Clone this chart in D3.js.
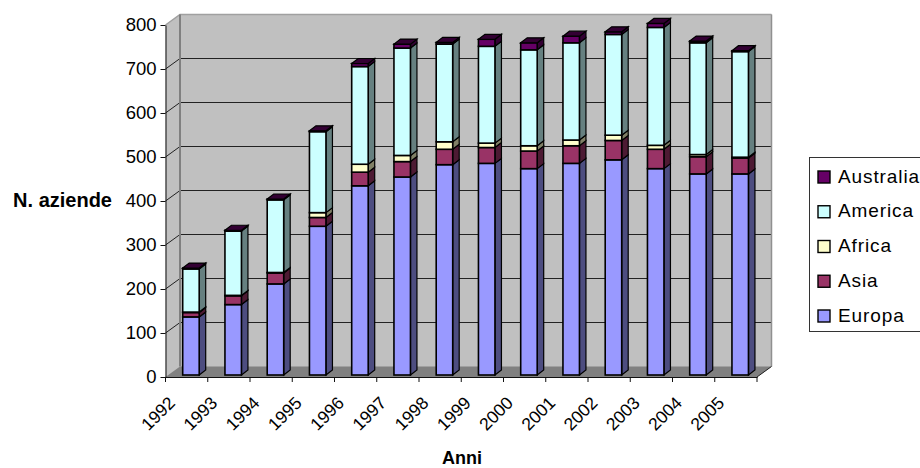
<!DOCTYPE html>
<html>
<head>
<meta charset="utf-8">
<script src="https://cdnjs.cloudflare.com/ajax/libs/d3/7.8.5/d3.min.js"></script>
<style>
    html, body { margin: 0; padding: 0; background: #fff; overflow: hidden; }
    text { font-family: "Liberation Sans", Arial, sans-serif; fill: #000; }
</style>
</head>
<body>
<div id="chart"></div>
<script>
const years = ["1992","1993","1994","1995","1996","1997","1998","1999","2000","2001","2002","2003","2004","2005"];
const seriesNames = ["Europa","Asia","Africa","America","Australia"];
const seriesColors = ["#9999FF","#993366","#FFFFCC","#CCFFFF","#660066"];
const sideColors = ["#4D4D80","#4D1A33","#808066","#668080","#330033"];

// segment sizes per year
const europa    = [132,160,207,338,430,450,478,481,469,481,489,469,457,457];
const asia      = [10,20,25,20,31,35,35,36,40,40,44,44,39,36];
const africa    = [1,1,1,11,18,14,17,10,12,13,12,9,5,2];
const america   = [98,146,165,184,222,244,222,220,218,221,229,268,254,240];
const australia = [2,2,2,2,7,9,4,16,16,15,6,9,4,2];

const yTicks = [0,100,200,300,400,500,600,700,800];

const width = 920, height = 468;
const plot = {left: 165.5, right: 757, top: 25, bottom: 377};
const depth = {x: 14.5, y: 10.5};
const barDepth = {x: 6.5, y: 5};
const barInset = 17.2, barWidth = 16.5, barLift = 2;

const svg = d3.select("#chart").append("svg")
    .attr("width", width)
    .attr("height", height)
    .style("display", "block");

const x = d3.scaleBand().domain(years).range([plot.left, plot.right]);
const y = d3.scaleLinear().domain([0, 800]).range([plot.bottom, plot.top]);

const rows = years.map((year, i) => ({
    year: year,
    Europa: europa[i],
    Asia: asia[i],
    Africa: africa[i],
    America: america[i],
    Australia: australia[i]
}));
const stacked = d3.stack().keys(seriesNames)(rows);

// walls and floor
svg.append("polygon")
    .attr("points", [[plot.left, plot.bottom], [plot.left, plot.top], [plot.left + depth.x, plot.top - depth.y], [plot.right + depth.x, plot.top - depth.y], [plot.right + depth.x, plot.bottom - depth.y], [plot.right, plot.bottom]].join(" "))
    .attr("fill", "#C0C0C0");

svg.append("polygon")
    .attr("points", [[plot.left, plot.bottom], [plot.left + depth.x, plot.bottom - depth.y], [plot.right + depth.x, plot.bottom - depth.y], [plot.right, plot.bottom]].join(" "))
    .attr("fill", "#808080");

// gridlines
yTicks.slice(1).forEach(t => {
    svg.append("polyline")
        .attr("points", [[plot.left, y(t)], [plot.left + depth.x, y(t) - depth.y], [plot.right + depth.x, y(t) - depth.y]].join(" "))
        .attr("fill", "none")
        .attr("stroke", t === 800 ? "#A0A0A0" : "#222")
        .attr("stroke-width", t === 800 ? 1.5 : 1);
});

// back wall border
svg.append("path")
    .attr("d", `M${plot.left + depth.x},${plot.bottom - depth.y}V${plot.top - depth.y}`)
    .attr("stroke", "#808080").attr("stroke-width", 2).attr("fill", "none");
svg.append("path")
    .attr("d", `M${plot.right + depth.x},${plot.top - depth.y}V${plot.bottom - depth.y}`)
    .attr("stroke", "#909090").attr("stroke-width", 1.5).attr("fill", "none");
svg.append("path")
    .attr("d", `M${plot.right},${plot.bottom}L${plot.right + depth.x},${plot.bottom - depth.y}`)
    .attr("stroke", "#222").attr("stroke-width", 1).attr("fill", "none");

// bars
const barStroke = {stroke: "#000", width: 1.6};
years.forEach(year => {
    let g = svg.append("g").attr("class", "bar");
    let x0 = x(year) + barInset, x1 = x0 + barWidth;

    stacked.forEach((layer, s) => {
        let d = layer.find(e => e.data.year === year);
        let yTop = y(d[1]) - barLift, yBase = y(d[0]) - barLift;

        g.append("polygon")
            .attr("points", [[x1, yBase], [x1 + barDepth.x, yBase - barDepth.y], [x1 + barDepth.x, yTop - barDepth.y], [x1, yTop]].join(" "))
            .attr("fill", sideColors[s])
            .attr("stroke", barStroke.stroke)
            .attr("stroke-width", 1.2);

        g.append("rect")
            .attr("x", x0)
            .attr("y", yTop)
            .attr("width", barWidth)
            .attr("height", yBase - yTop)
            .attr("fill", seriesColors[s])
            .attr("stroke", barStroke.stroke)
            .attr("stroke-width", barStroke.width);

        // only the last series shows its top face
        if (s === stacked.length - 1) {
            g.append("polygon")
                .attr("points", [[x0, yTop], [x0 + barDepth.x, yTop - barDepth.y], [x1 + barDepth.x, yTop - barDepth.y], [x1, yTop]].join(" "))
                .attr("fill", sideColors[s])
                .attr("stroke", barStroke.stroke)
                .attr("stroke-width", 1.2);
        }
    });
});

// y axis
const yAxis = d3.axisLeft(y).tickValues(yTicks).tickSize(5).tickPadding(4).tickSizeOuter(0);
const yAxisGroup = svg.append("g")
    .attr("transform", `translate(${plot.left},0)`)
    .call(yAxis);
yAxisGroup.selectAll("text").style("font-size", "18.5px").attr("font-family", null);
yAxisGroup.selectAll("line").attr("stroke", "#111");
yAxisGroup.select(".domain").attr("stroke", "#111");

// x axis, ticks sit between categories
const xAxis = d3.axisBottom(x).tickSize(0).tickSizeOuter(0);
const xAxisGroup = svg.append("g")
    .attr("transform", `translate(0,${plot.bottom})`)
    .call(xAxis);
xAxisGroup.select(".domain").attr("stroke", "#111");
xAxisGroup.selectAll(".tick line")
    .attr("x1", -x.step() / 2)
    .attr("x2", -x.step() / 2)
    .attr("y2", 5)
    .attr("stroke", "#111");
xAxisGroup.append("line")
    .attr("x1", plot.right).attr("x2", plot.right)
    .attr("y1", 0).attr("y2", 5)
    .attr("stroke", "#111");
xAxisGroup.selectAll(".tick text")
    .attr("text-anchor", "end")
    .attr("dy", null)
    .attr("y", null)
    .attr("transform", "translate(-10.5,27) rotate(-45)")
    .style("font-size", "17.5px");

// axis titles
svg.append("text")
    .attr("x", 112).attr("y", 207)
    .attr("text-anchor", "end")
    .attr("font-weight", "bold")
    .style("font-size", "20px")
    .text("N. aziende");

svg.append("text")
    .attr("x", 462).attr("y", 464)
    .attr("text-anchor", "middle")
    .attr("font-weight", "bold")
    .style("font-size", "18px")
    .text("Anni");

// legend
const legendOrder = seriesNames.map((name, i) => ({name: name, color: seriesColors[i]})).reverse();
const legendRow = d3.scalePoint().domain(legendOrder.map(d => d.name)).range([176.5, 315.5]);

svg.append("rect")
    .attr("x", 809.5).attr("y", 157.5)
    .attr("width", 120).attr("height", 174)
    .attr("fill", "#fff")
    .attr("stroke", "#333");

legendOrder.forEach(d => {
    svg.append("rect")
        .attr("x", 818).attr("y", legendRow(d.name) - 5.5)
        .attr("width", 12).attr("height", 12)
        .attr("fill", d.color)
        .attr("stroke", "#000")
        .attr("stroke-width", 1.4);
    svg.append("text")
        .attr("x", 838).attr("y", legendRow(d.name) + 6)
        .style("font-size", "19px")
        .style("letter-spacing", "0.9px")
        .text(d.name);
});
</script>
</body>
</html>
